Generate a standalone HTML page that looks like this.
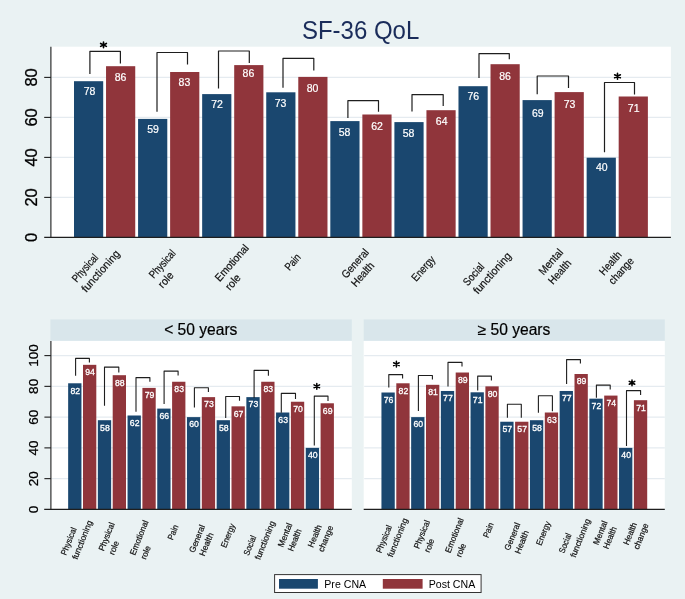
<!DOCTYPE html>
<html><head><meta charset="utf-8"><title>SF-36 QoL</title>
<style>
html,body{margin:0;padding:0;background:#eaf2f3;}
body{width:685px;height:599px;overflow:hidden;}
svg{display:block;font-family:"Liberation Sans", sans-serif;will-change:transform;}
</style></head><body>
<svg width="685" height="599" viewBox="0 0 685 599">
<rect width="685" height="599" fill="#eaf2f3"/>
<rect x="50.9" y="46.7" width="620" height="190.7" fill="#fff"/>
<line x1="51.4" y1="197.4" x2="670.9" y2="197.4" stroke="#e5ebf0" stroke-width="1.25"/>
<line x1="51.4" y1="157.4" x2="670.9" y2="157.4" stroke="#e5ebf0" stroke-width="1.25"/>
<line x1="51.4" y1="117.4" x2="670.9" y2="117.4" stroke="#e5ebf0" stroke-width="1.25"/>
<line x1="51.4" y1="77.4" x2="670.9" y2="77.4" stroke="#e5ebf0" stroke-width="1.25"/>
<rect x="74" y="81.2" width="29.2" height="156.2" fill="#1a476f"/>
<rect x="106.04" y="66.2" width="29.2" height="171.2" fill="#90353b"/>
<text x="89.6" y="94.5" font-size="10.5" fill="#fff" text-anchor="middle" stroke="#fff" stroke-width="0.2">78</text>
<text x="120.5" y="80.5" font-size="10.5" fill="#fff" text-anchor="middle" stroke="#fff" stroke-width="0.2">86</text>
<rect x="138.08" y="118.9" width="29.2" height="118.5" fill="#1a476f"/>
<rect x="170.12" y="72" width="29.2" height="165.4" fill="#90353b"/>
<text x="153.08" y="133.1" font-size="10.5" fill="#fff" text-anchor="middle" stroke="#fff" stroke-width="0.2">59</text>
<text x="184.45" y="85.8" font-size="10.5" fill="#fff" text-anchor="middle" stroke="#fff" stroke-width="0.2">83</text>
<rect x="202.16" y="94.1" width="29.2" height="143.3" fill="#1a476f"/>
<rect x="234.2" y="65.1" width="29.2" height="172.3" fill="#90353b"/>
<text x="217" y="108.2" font-size="10.5" fill="#fff" text-anchor="middle" stroke="#fff" stroke-width="0.2">72</text>
<text x="248.4" y="77.2" font-size="10.5" fill="#fff" text-anchor="middle" stroke="#fff" stroke-width="0.2">86</text>
<rect x="266.24" y="92.3" width="29.2" height="145.1" fill="#1a476f"/>
<rect x="298.28" y="76.9" width="29.2" height="160.5" fill="#90353b"/>
<text x="280.6" y="106.9" font-size="10.5" fill="#fff" text-anchor="middle" stroke="#fff" stroke-width="0.2">73</text>
<text x="312.6" y="91.8" font-size="10.5" fill="#fff" text-anchor="middle" stroke="#fff" stroke-width="0.2">80</text>
<rect x="330.32" y="121.1" width="29.2" height="116.3" fill="#1a476f"/>
<rect x="362.36" y="114.5" width="29.2" height="122.9" fill="#90353b"/>
<text x="344.6" y="135.5" font-size="10.5" fill="#fff" text-anchor="middle" stroke="#fff" stroke-width="0.2">58</text>
<text x="377.1" y="130.1" font-size="10.5" fill="#fff" text-anchor="middle" stroke="#fff" stroke-width="0.2">62</text>
<rect x="394.4" y="122.1" width="29.2" height="115.3" fill="#1a476f"/>
<rect x="426.44" y="110.2" width="29.2" height="127.2" fill="#90353b"/>
<text x="408.6" y="136.5" font-size="10.5" fill="#fff" text-anchor="middle" stroke="#fff" stroke-width="0.2">58</text>
<text x="441.7" y="124.8" font-size="10.5" fill="#fff" text-anchor="middle" stroke="#fff" stroke-width="0.2">64</text>
<rect x="458.48" y="86.2" width="29.2" height="151.2" fill="#1a476f"/>
<rect x="490.52" y="64.2" width="29.2" height="173.2" fill="#90353b"/>
<text x="473.3" y="100.4" font-size="10.5" fill="#fff" text-anchor="middle" stroke="#fff" stroke-width="0.2">76</text>
<text x="505" y="79.6" font-size="10.5" fill="#fff" text-anchor="middle" stroke="#fff" stroke-width="0.2">86</text>
<rect x="522.56" y="100.1" width="29.2" height="137.3" fill="#1a476f"/>
<rect x="554.6" y="92.1" width="29.2" height="145.3" fill="#90353b"/>
<text x="537.8" y="116.5" font-size="10.5" fill="#fff" text-anchor="middle" stroke="#fff" stroke-width="0.2">69</text>
<text x="569.5" y="107.8" font-size="10.5" fill="#fff" text-anchor="middle" stroke="#fff" stroke-width="0.2">73</text>
<rect x="586.64" y="157.7" width="29.2" height="79.7" fill="#1a476f"/>
<rect x="618.68" y="96.5" width="29.2" height="140.9" fill="#90353b"/>
<text x="601.8" y="171" font-size="10.5" fill="#fff" text-anchor="middle" stroke="#fff" stroke-width="0.2">40</text>
<text x="633.68" y="112.2" font-size="10.5" fill="#fff" text-anchor="middle" stroke="#fff" stroke-width="0.2">71</text>
<line x1="50.9" y1="46.7" x2="50.9" y2="237.9" stroke="#1e1e1e" stroke-width="1.1"/>
<line x1="44.2" y1="237.4" x2="670.9" y2="237.4" stroke="#1e1e1e" stroke-width="1.1"/>
<line x1="44.2" y1="197.4" x2="50.9" y2="197.4" stroke="#1e1e1e" stroke-width="1.1"/>
<line x1="44.2" y1="157.4" x2="50.9" y2="157.4" stroke="#1e1e1e" stroke-width="1.1"/>
<line x1="44.2" y1="117.4" x2="50.9" y2="117.4" stroke="#1e1e1e" stroke-width="1.1"/>
<line x1="44.2" y1="77.4" x2="50.9" y2="77.4" stroke="#1e1e1e" stroke-width="1.1"/>
<text x="37" y="237.4" font-size="16.5" fill="#000" text-anchor="middle" transform="rotate(-90 37 237.4)" stroke="#000" stroke-width="0.3">0</text>
<text x="37" y="197.4" font-size="16.5" fill="#000" text-anchor="middle" transform="rotate(-90 37 197.4)" stroke="#000" stroke-width="0.3">20</text>
<text x="37" y="157.4" font-size="16.5" fill="#000" text-anchor="middle" transform="rotate(-90 37 157.4)" stroke="#000" stroke-width="0.3">40</text>
<text x="37" y="117.4" font-size="16.5" fill="#000" text-anchor="middle" transform="rotate(-90 37 117.4)" stroke="#000" stroke-width="0.3">60</text>
<text x="37" y="77.4" font-size="16.5" fill="#000" text-anchor="middle" transform="rotate(-90 37 77.4)" stroke="#000" stroke-width="0.3">80</text>
<path d="M89.9 73.9V51.3H120.4V63.4" fill="none" stroke="#1e1e1e" stroke-width="1.2" stroke-linejoin="round"/>
<path d="M157 111.7V52.5H187.5V64.6" fill="none" stroke="#1e1e1e" stroke-width="1.2" stroke-linejoin="round"/>
<path d="M218.5 88.5V51H249.3V63.1" fill="none" stroke="#1e1e1e" stroke-width="1.2" stroke-linejoin="round"/>
<path d="M283 87.8V58.3H313.8V70.6" fill="none" stroke="#1e1e1e" stroke-width="1.2" stroke-linejoin="round"/>
<path d="M347.9 118V100.7H378.5V111.8" fill="none" stroke="#1e1e1e" stroke-width="1.2" stroke-linejoin="round"/>
<path d="M412 111.6V94.6H443.2V105.9" fill="none" stroke="#1e1e1e" stroke-width="1.2" stroke-linejoin="round"/>
<path d="M479 78V53.7H509.3V59.3" fill="none" stroke="#1e1e1e" stroke-width="1.2" stroke-linejoin="round"/>
<path d="M537.2 94.2V76H568.5V88" fill="none" stroke="#1e1e1e" stroke-width="1.2" stroke-linejoin="round"/>
<path d="M604.5 152.3V82.5H634.5V94.5" fill="none" stroke="#1e1e1e" stroke-width="1.2" stroke-linejoin="round"/>
<path d="M103.5 41.98L103.5 47.82M100.62 46.37L106.38 43.43M100.62 43.43L106.38 46.37" stroke="#000" stroke-width="1.6" stroke-linecap="round"/>
<path d="M617.5 73.38L617.5 79.22M614.62 77.77L620.38 74.83M614.62 74.83L620.38 77.77" stroke="#000" stroke-width="1.6" stroke-linecap="round"/>
<text transform="translate(76.7 282.9) rotate(-48.5)" font-size="11.0" fill="#111" stroke="#111" stroke-width="0.2" textLength="33.31" lengthAdjust="spacingAndGlyphs">Physical</text>
<text transform="translate(86.15 293) rotate(-48.5)" font-size="11.0" fill="#111" stroke="#111" stroke-width="0.2" textLength="51.95" lengthAdjust="spacingAndGlyphs">functioning</text>
<text transform="translate(153.85 279.1) rotate(-48.5)" font-size="11.0" fill="#111" stroke="#111" stroke-width="0.2" textLength="33.81" lengthAdjust="spacingAndGlyphs">Physical</text>
<text transform="translate(162.85 288.7) rotate(-48.5)" font-size="11.0" fill="#111" stroke="#111" stroke-width="0.2" textLength="17.23" lengthAdjust="spacingAndGlyphs">role</text>
<text transform="translate(219.7 282.15) rotate(-48.5)" font-size="11.0" fill="#111" stroke="#111" stroke-width="0.2" textLength="45.0" lengthAdjust="spacingAndGlyphs">Emotional</text>
<text transform="translate(229.9 291.05) rotate(-48.5)" font-size="11.0" fill="#111" stroke="#111" stroke-width="0.2" textLength="17.37" lengthAdjust="spacingAndGlyphs">role</text>
<text transform="translate(289.45 271.2) rotate(-48.5)" font-size="11.0" fill="#111" stroke="#111" stroke-width="0.2" textLength="18.08" lengthAdjust="spacingAndGlyphs">Pain</text>
<text transform="translate(346.3 279) rotate(-48.5)" font-size="11.0" fill="#111" stroke="#111" stroke-width="0.2" textLength="35.01" lengthAdjust="spacingAndGlyphs">General</text>
<text transform="translate(355.9 287.45) rotate(-48.5)" font-size="11.0" fill="#111" stroke="#111" stroke-width="0.2" textLength="28.57" lengthAdjust="spacingAndGlyphs">Health</text>
<text transform="translate(416.35 281.95) rotate(-48.5)" font-size="11.0" fill="#111" stroke="#111" stroke-width="0.2" textLength="29.35" lengthAdjust="spacingAndGlyphs">Energy</text>
<text transform="translate(467.8 286.45) rotate(-48.5)" font-size="11.0" fill="#111" stroke="#111" stroke-width="0.2" textLength="25.88" lengthAdjust="spacingAndGlyphs">Social</text>
<text transform="translate(477.95 294.8) rotate(-48.5)" font-size="11.0" fill="#111" stroke="#111" stroke-width="0.2" textLength="51.38" lengthAdjust="spacingAndGlyphs">functioning</text>
<text transform="translate(543.4 275.7) rotate(-48.5)" font-size="11.0" fill="#111" stroke="#111" stroke-width="0.2" textLength="30.62" lengthAdjust="spacingAndGlyphs">Mental</text>
<text transform="translate(553 285.05) rotate(-48.5)" font-size="11.0" fill="#111" stroke="#111" stroke-width="0.2" textLength="28.57" lengthAdjust="spacingAndGlyphs">Health</text>
<text transform="translate(603.9 276) rotate(-48.5)" font-size="11.0" fill="#111" stroke="#111" stroke-width="0.2" textLength="27.65" lengthAdjust="spacingAndGlyphs">Health</text>
<text transform="translate(613.35 285.25) rotate(-48.5)" font-size="11.0" fill="#111" stroke="#111" stroke-width="0.2" textLength="31.9" lengthAdjust="spacingAndGlyphs">change</text>
<text transform="translate(360.6 38.8) scale(1 1.06)" font-size="24" fill="#1a2c5a" text-anchor="middle">SF-36 QoL</text>
<rect x="50.4" y="319.4" width="301.4" height="21.5" fill="#d9e6eb"/>
<rect x="50.4" y="340.9" width="301.4" height="168.5" fill="#fff"/>
<line x1="50.9" y1="478.64" x2="351.8" y2="478.64" stroke="#e5ebf0" stroke-width="1.2"/>
<line x1="50.9" y1="447.88" x2="351.8" y2="447.88" stroke="#e5ebf0" stroke-width="1.2"/>
<line x1="50.9" y1="417.12" x2="351.8" y2="417.12" stroke="#e5ebf0" stroke-width="1.2"/>
<line x1="50.9" y1="386.36" x2="351.8" y2="386.36" stroke="#e5ebf0" stroke-width="1.2"/>
<line x1="50.9" y1="355.6" x2="351.8" y2="355.6" stroke="#e5ebf0" stroke-width="1.2"/>
<rect x="68.15" y="383.28" width="13.3" height="126.12" fill="#1a476f"/>
<rect x="83" y="364.83" width="13.3" height="144.57" fill="#90353b"/>
<text x="75.25" y="393.58" font-size="8.7" fill="#fff" text-anchor="middle" stroke="#fff" stroke-width="0.3">82</text>
<text x="90.1" y="375.13" font-size="8.7" fill="#fff" text-anchor="middle" stroke="#fff" stroke-width="0.3">94</text>
<rect x="97.85" y="420.2" width="13.3" height="89.2" fill="#1a476f"/>
<rect x="112.7" y="375.2" width="13.3" height="134.2" fill="#90353b"/>
<text x="104.95" y="430.5" font-size="8.7" fill="#fff" text-anchor="middle" stroke="#fff" stroke-width="0.3">58</text>
<text x="119.8" y="385.5" font-size="8.7" fill="#fff" text-anchor="middle" stroke="#fff" stroke-width="0.3">88</text>
<rect x="127.55" y="415.5" width="13.3" height="93.9" fill="#1a476f"/>
<rect x="142.4" y="387.9" width="13.3" height="121.5" fill="#90353b"/>
<text x="134.65" y="425.8" font-size="8.7" fill="#fff" text-anchor="middle" stroke="#fff" stroke-width="0.3">62</text>
<text x="149.5" y="398.2" font-size="8.7" fill="#fff" text-anchor="middle" stroke="#fff" stroke-width="0.3">79</text>
<rect x="157.25" y="408.6" width="13.3" height="100.8" fill="#1a476f"/>
<rect x="172.1" y="381.75" width="13.3" height="127.65" fill="#90353b"/>
<text x="164.35" y="418.9" font-size="8.7" fill="#fff" text-anchor="middle" stroke="#fff" stroke-width="0.3">66</text>
<text x="179.2" y="392.05" font-size="8.7" fill="#fff" text-anchor="middle" stroke="#fff" stroke-width="0.3">83</text>
<rect x="186.95" y="417.12" width="13.3" height="92.28" fill="#1a476f"/>
<rect x="201.8" y="397.13" width="13.3" height="112.27" fill="#90353b"/>
<text x="194.05" y="427.42" font-size="8.7" fill="#fff" text-anchor="middle" stroke="#fff" stroke-width="0.3">60</text>
<text x="208.9" y="407.43" font-size="8.7" fill="#fff" text-anchor="middle" stroke="#fff" stroke-width="0.3">73</text>
<rect x="216.65" y="420.2" width="13.3" height="89.2" fill="#1a476f"/>
<rect x="231.5" y="406.35" width="13.3" height="103.05" fill="#90353b"/>
<text x="223.75" y="430.5" font-size="8.7" fill="#fff" text-anchor="middle" stroke="#fff" stroke-width="0.3">58</text>
<text x="238.6" y="416.65" font-size="8.7" fill="#fff" text-anchor="middle" stroke="#fff" stroke-width="0.3">67</text>
<rect x="246.35" y="397.13" width="13.3" height="112.27" fill="#1a476f"/>
<rect x="261.2" y="381.75" width="13.3" height="127.65" fill="#90353b"/>
<text x="253.45" y="407.43" font-size="8.7" fill="#fff" text-anchor="middle" stroke="#fff" stroke-width="0.3">73</text>
<text x="268.3" y="392.05" font-size="8.7" fill="#fff" text-anchor="middle" stroke="#fff" stroke-width="0.3">83</text>
<rect x="276.05" y="412.51" width="13.3" height="96.89" fill="#1a476f"/>
<rect x="290.9" y="401.74" width="13.3" height="107.66" fill="#90353b"/>
<text x="283.15" y="422.81" font-size="8.7" fill="#fff" text-anchor="middle" stroke="#fff" stroke-width="0.3">63</text>
<text x="298" y="412.04" font-size="8.7" fill="#fff" text-anchor="middle" stroke="#fff" stroke-width="0.3">70</text>
<rect x="305.75" y="447.88" width="13.3" height="61.52" fill="#1a476f"/>
<rect x="320.6" y="403.28" width="13.3" height="106.12" fill="#90353b"/>
<text x="312.85" y="458.18" font-size="8.7" fill="#fff" text-anchor="middle" stroke="#fff" stroke-width="0.3">40</text>
<text x="327.7" y="413.58" font-size="8.7" fill="#fff" text-anchor="middle" stroke="#fff" stroke-width="0.3">69</text>
<line x1="44.2" y1="509.4" x2="351.8" y2="509.4" stroke="#1e1e1e" stroke-width="1.1"/>
<line x1="50.9" y1="340.9" x2="50.9" y2="509.9" stroke="#1e1e1e" stroke-width="1.1"/>
<line x1="44.4" y1="478.64" x2="50.9" y2="478.64" stroke="#1e1e1e" stroke-width="1.1"/>
<line x1="44.4" y1="447.88" x2="50.9" y2="447.88" stroke="#1e1e1e" stroke-width="1.1"/>
<line x1="44.4" y1="417.12" x2="50.9" y2="417.12" stroke="#1e1e1e" stroke-width="1.1"/>
<line x1="44.4" y1="386.36" x2="50.9" y2="386.36" stroke="#1e1e1e" stroke-width="1.1"/>
<line x1="44.4" y1="355.6" x2="50.9" y2="355.6" stroke="#1e1e1e" stroke-width="1.1"/>
<text x="38" y="509.4" font-size="13.5" fill="#000" text-anchor="middle" transform="rotate(-90 38 509.4)" stroke="#000" stroke-width="0.25">0</text>
<text x="38" y="478.64" font-size="13.5" fill="#000" text-anchor="middle" transform="rotate(-90 38 478.64)" stroke="#000" stroke-width="0.25">20</text>
<text x="38" y="447.88" font-size="13.5" fill="#000" text-anchor="middle" transform="rotate(-90 38 447.88)" stroke="#000" stroke-width="0.25">40</text>
<text x="38" y="417.12" font-size="13.5" fill="#000" text-anchor="middle" transform="rotate(-90 38 417.12)" stroke="#000" stroke-width="0.25">60</text>
<text x="38" y="386.36" font-size="13.5" fill="#000" text-anchor="middle" transform="rotate(-90 38 386.36)" stroke="#000" stroke-width="0.25">80</text>
<text x="38" y="355.6" font-size="13.5" fill="#000" text-anchor="middle" transform="rotate(-90 38 355.6)" stroke="#000" stroke-width="0.25">100</text>
<path d="M75.6 375.8V358.4H89.4V362.4" fill="none" stroke="#1e1e1e" stroke-width="1.1" stroke-linejoin="round"/>
<path d="M104.5 405.7V367.1H118.8V372.5" fill="none" stroke="#1e1e1e" stroke-width="1.1" stroke-linejoin="round"/>
<path d="M136 411.7V377.6H149.9V381.7" fill="none" stroke="#1e1e1e" stroke-width="1.1" stroke-linejoin="round"/>
<path d="M164.1 404.1V371.1H178.1V375.4" fill="none" stroke="#1e1e1e" stroke-width="1.1" stroke-linejoin="round"/>
<path d="M194.4 407.4V387.7H208.4V392.1" fill="none" stroke="#1e1e1e" stroke-width="1.1" stroke-linejoin="round"/>
<path d="M225.7 418.1V396.5H239.5V400.7" fill="none" stroke="#1e1e1e" stroke-width="1.1" stroke-linejoin="round"/>
<path d="M254.1 398.1V370.4H268.4V375.8" fill="none" stroke="#1e1e1e" stroke-width="1.1" stroke-linejoin="round"/>
<path d="M281.3 412.8V393.4H295.5V399" fill="none" stroke="#1e1e1e" stroke-width="1.1" stroke-linejoin="round"/>
<path d="M314.3 445.6V396.1H328V401" fill="none" stroke="#1e1e1e" stroke-width="1.1" stroke-linejoin="round"/>
<path d="M316.8 383.46L316.8 389.14M314.01 387.72L319.59 384.88M314.01 384.88L319.59 387.72" stroke="#000" stroke-width="1.5" stroke-linecap="round"/>
<text x="200.8" y="334.8" font-size="15.6" fill="#000" text-anchor="middle" stroke="#000" stroke-width="0.2">&lt; 50 years</text>
<text transform="translate(65.95 555.85) rotate(-68.0)" font-size="8.6" fill="#111" stroke="#111" stroke-width="0.2" textLength="28.98" lengthAdjust="spacingAndGlyphs">Physical</text>
<text transform="translate(77.2 560.1) rotate(-68.0)" font-size="8.6" fill="#111" stroke="#111" stroke-width="0.2" textLength="41.12" lengthAdjust="spacingAndGlyphs">functioning</text>
<text transform="translate(103.65 551.6) rotate(-68.0)" font-size="8.6" fill="#111" stroke="#111" stroke-width="0.2" textLength="29.82" lengthAdjust="spacingAndGlyphs">Physical</text>
<text transform="translate(114.05 555.4) rotate(-68.0)" font-size="8.6" fill="#111" stroke="#111" stroke-width="0.2" textLength="14.0" lengthAdjust="spacingAndGlyphs">role</text>
<text transform="translate(134.95 555.75) rotate(-68.0)" font-size="8.6" fill="#111" stroke="#111" stroke-width="0.2" textLength="36.51" lengthAdjust="spacingAndGlyphs">Emotional</text>
<text transform="translate(145.75 559.95) rotate(-68.0)" font-size="8.6" fill="#111" stroke="#111" stroke-width="0.2" textLength="13.77" lengthAdjust="spacingAndGlyphs">role</text>
<text transform="translate(172.85 540.5) rotate(-68.0)" font-size="8.6" fill="#111" stroke="#111" stroke-width="0.2" textLength="15.38" lengthAdjust="spacingAndGlyphs">Pain</text>
<text transform="translate(194.3 553.25) rotate(-68.0)" font-size="8.6" fill="#111" stroke="#111" stroke-width="0.2" textLength="29.06" lengthAdjust="spacingAndGlyphs">General</text>
<text transform="translate(204.6 556.75) rotate(-68.0)" font-size="8.6" fill="#111" stroke="#111" stroke-width="0.2" textLength="24.29" lengthAdjust="spacingAndGlyphs">Health</text>
<text transform="translate(226 548.2) rotate(-68.0)" font-size="8.6" fill="#111" stroke="#111" stroke-width="0.2" textLength="24.83" lengthAdjust="spacingAndGlyphs">Energy</text>
<text transform="translate(248.7 555.95) rotate(-68.0)" font-size="8.6" fill="#111" stroke="#111" stroke-width="0.2" textLength="20.45" lengthAdjust="spacingAndGlyphs">Social</text>
<text transform="translate(260.1 560.2) rotate(-68.0)" font-size="8.6" fill="#111" stroke="#111" stroke-width="0.2" textLength="40.65" lengthAdjust="spacingAndGlyphs">functioning</text>
<text transform="translate(283.05 547.75) rotate(-68.0)" font-size="8.6" fill="#111" stroke="#111" stroke-width="0.2" textLength="24.98" lengthAdjust="spacingAndGlyphs">Mental</text>
<text transform="translate(293 551.7) rotate(-68.0)" font-size="8.6" fill="#111" stroke="#111" stroke-width="0.2" textLength="22.83" lengthAdjust="spacingAndGlyphs">Health</text>
<text transform="translate(313.1 547.9) rotate(-68.0)" font-size="8.6" fill="#111" stroke="#111" stroke-width="0.2" textLength="23.29" lengthAdjust="spacingAndGlyphs">Health</text>
<text transform="translate(323.15 552.4) rotate(-68.0)" font-size="8.6" fill="#111" stroke="#111" stroke-width="0.2" textLength="27.37" lengthAdjust="spacingAndGlyphs">change</text>
<rect x="363.7" y="319.4" width="301.1" height="21.5" fill="#d9e6eb"/>
<rect x="363.7" y="340.9" width="301.1" height="168.5" fill="#fff"/>
<line x1="364.2" y1="478.64" x2="664.8" y2="478.64" stroke="#e5ebf0" stroke-width="1.2"/>
<line x1="364.2" y1="447.88" x2="664.8" y2="447.88" stroke="#e5ebf0" stroke-width="1.2"/>
<line x1="364.2" y1="417.12" x2="664.8" y2="417.12" stroke="#e5ebf0" stroke-width="1.2"/>
<line x1="364.2" y1="386.36" x2="664.8" y2="386.36" stroke="#e5ebf0" stroke-width="1.2"/>
<line x1="364.2" y1="355.6" x2="664.8" y2="355.6" stroke="#e5ebf0" stroke-width="1.2"/>
<rect x="381.45" y="392.51" width="13.3" height="116.89" fill="#1a476f"/>
<rect x="396.3" y="383.28" width="13.3" height="126.12" fill="#90353b"/>
<text x="388.55" y="402.81" font-size="8.7" fill="#fff" text-anchor="middle" stroke="#fff" stroke-width="0.3">76</text>
<text x="403.4" y="393.58" font-size="8.7" fill="#fff" text-anchor="middle" stroke="#fff" stroke-width="0.3">82</text>
<rect x="411.15" y="417.12" width="13.3" height="92.28" fill="#1a476f"/>
<rect x="426" y="384.82" width="13.3" height="124.58" fill="#90353b"/>
<text x="418.25" y="427.42" font-size="8.7" fill="#fff" text-anchor="middle" stroke="#fff" stroke-width="0.3">60</text>
<text x="433.1" y="395.12" font-size="8.7" fill="#fff" text-anchor="middle" stroke="#fff" stroke-width="0.3">81</text>
<rect x="440.85" y="390.97" width="13.3" height="118.43" fill="#1a476f"/>
<rect x="455.7" y="372.52" width="13.3" height="136.88" fill="#90353b"/>
<text x="447.95" y="401.27" font-size="8.7" fill="#fff" text-anchor="middle" stroke="#fff" stroke-width="0.3">77</text>
<text x="462.8" y="382.82" font-size="8.7" fill="#fff" text-anchor="middle" stroke="#fff" stroke-width="0.3">89</text>
<rect x="470.55" y="392.3" width="13.3" height="117.1" fill="#1a476f"/>
<rect x="485.4" y="386.36" width="13.3" height="123.04" fill="#90353b"/>
<text x="477.65" y="402.6" font-size="8.7" fill="#fff" text-anchor="middle" stroke="#fff" stroke-width="0.3">71</text>
<text x="492.5" y="396.66" font-size="8.7" fill="#fff" text-anchor="middle" stroke="#fff" stroke-width="0.3">80</text>
<rect x="500.25" y="421.73" width="13.3" height="87.67" fill="#1a476f"/>
<rect x="515.1" y="421.73" width="13.3" height="87.67" fill="#90353b"/>
<text x="507.35" y="432.03" font-size="8.7" fill="#fff" text-anchor="middle" stroke="#fff" stroke-width="0.3">57</text>
<text x="522.2" y="432.03" font-size="8.7" fill="#fff" text-anchor="middle" stroke="#fff" stroke-width="0.3">57</text>
<rect x="529.95" y="420.2" width="13.3" height="89.2" fill="#1a476f"/>
<rect x="544.8" y="412.51" width="13.3" height="96.89" fill="#90353b"/>
<text x="537.05" y="430.5" font-size="8.7" fill="#fff" text-anchor="middle" stroke="#fff" stroke-width="0.3">58</text>
<text x="551.9" y="422.81" font-size="8.7" fill="#fff" text-anchor="middle" stroke="#fff" stroke-width="0.3">63</text>
<rect x="559.65" y="390.97" width="13.3" height="118.43" fill="#1a476f"/>
<rect x="574.5" y="374" width="13.3" height="135.4" fill="#90353b"/>
<text x="566.75" y="401.27" font-size="8.7" fill="#fff" text-anchor="middle" stroke="#fff" stroke-width="0.3">77</text>
<text x="581.6" y="384.3" font-size="8.7" fill="#fff" text-anchor="middle" stroke="#fff" stroke-width="0.3">89</text>
<rect x="589.35" y="398.66" width="13.3" height="110.74" fill="#1a476f"/>
<rect x="604.2" y="395.59" width="13.3" height="113.81" fill="#90353b"/>
<text x="596.45" y="408.96" font-size="8.7" fill="#fff" text-anchor="middle" stroke="#fff" stroke-width="0.3">72</text>
<text x="611.3" y="405.89" font-size="8.7" fill="#fff" text-anchor="middle" stroke="#fff" stroke-width="0.3">74</text>
<rect x="619.05" y="447.88" width="13.3" height="61.52" fill="#1a476f"/>
<rect x="633.9" y="400.2" width="13.3" height="109.2" fill="#90353b"/>
<text x="626.15" y="458.18" font-size="8.7" fill="#fff" text-anchor="middle" stroke="#fff" stroke-width="0.3">40</text>
<text x="641" y="410.5" font-size="8.7" fill="#fff" text-anchor="middle" stroke="#fff" stroke-width="0.3">71</text>
<line x1="363.7" y1="509.4" x2="664.8" y2="509.4" stroke="#1e1e1e" stroke-width="1.1"/>
<path d="M388.8 387.5V374.6H402.6V378.4" fill="none" stroke="#1e1e1e" stroke-width="1.1" stroke-linejoin="round"/>
<path d="M418.4 411.1V375.5H432.4V379.5" fill="none" stroke="#1e1e1e" stroke-width="1.1" stroke-linejoin="round"/>
<path d="M448 386.4V362.4H462V366.6" fill="none" stroke="#1e1e1e" stroke-width="1.1" stroke-linejoin="round"/>
<path d="M477.7 390.4V376.1H491.4V380.4" fill="none" stroke="#1e1e1e" stroke-width="1.1" stroke-linejoin="round"/>
<path d="M507.4 417.8V404.3H521.3V417.8" fill="none" stroke="#1e1e1e" stroke-width="1.1" stroke-linejoin="round"/>
<path d="M538.4 412.8V395.7H552.4V411.2" fill="none" stroke="#1e1e1e" stroke-width="1.1" stroke-linejoin="round"/>
<path d="M566.6 384.1V359.6H580.4V363.6" fill="none" stroke="#1e1e1e" stroke-width="1.1" stroke-linejoin="round"/>
<path d="M596.4 397.7V385.1H610.2V389.4" fill="none" stroke="#1e1e1e" stroke-width="1.1" stroke-linejoin="round"/>
<path d="M626.5 446V390.6H640.6V395" fill="none" stroke="#1e1e1e" stroke-width="1.1" stroke-linejoin="round"/>
<path d="M396.4 361.36L396.4 367.04M393.61 365.62L399.19 362.78M393.61 362.78L399.19 365.62" stroke="#000" stroke-width="1.5" stroke-linecap="round"/>
<path d="M632 379.96L632 385.64M629.21 384.22L634.79 381.38M629.21 381.38L634.79 384.22" stroke="#000" stroke-width="1.5" stroke-linecap="round"/>
<text x="513.95" y="334.8" font-size="15.6" fill="#000" text-anchor="middle" stroke="#000" stroke-width="0.2">&#8805; 50 years</text>
<text transform="translate(381.25 553.55) rotate(-68.0)" font-size="8.6" fill="#111" stroke="#111" stroke-width="0.2" textLength="28.98" lengthAdjust="spacingAndGlyphs">Physical</text>
<text transform="translate(392.5 557.8) rotate(-68.0)" font-size="8.6" fill="#111" stroke="#111" stroke-width="0.2" textLength="41.12" lengthAdjust="spacingAndGlyphs">functioning</text>
<text transform="translate(418.95 549.3) rotate(-68.0)" font-size="8.6" fill="#111" stroke="#111" stroke-width="0.2" textLength="29.82" lengthAdjust="spacingAndGlyphs">Physical</text>
<text transform="translate(429.35 553.1) rotate(-68.0)" font-size="8.6" fill="#111" stroke="#111" stroke-width="0.2" textLength="14.0" lengthAdjust="spacingAndGlyphs">role</text>
<text transform="translate(450.25 553.45) rotate(-68.0)" font-size="8.6" fill="#111" stroke="#111" stroke-width="0.2" textLength="36.51" lengthAdjust="spacingAndGlyphs">Emotional</text>
<text transform="translate(461.05 557.65) rotate(-68.0)" font-size="8.6" fill="#111" stroke="#111" stroke-width="0.2" textLength="13.77" lengthAdjust="spacingAndGlyphs">role</text>
<text transform="translate(488.15 538.2) rotate(-68.0)" font-size="8.6" fill="#111" stroke="#111" stroke-width="0.2" textLength="15.38" lengthAdjust="spacingAndGlyphs">Pain</text>
<text transform="translate(509.6 550.95) rotate(-68.0)" font-size="8.6" fill="#111" stroke="#111" stroke-width="0.2" textLength="29.06" lengthAdjust="spacingAndGlyphs">General</text>
<text transform="translate(519.9 554.45) rotate(-68.0)" font-size="8.6" fill="#111" stroke="#111" stroke-width="0.2" textLength="24.29" lengthAdjust="spacingAndGlyphs">Health</text>
<text transform="translate(541.3 545.9) rotate(-68.0)" font-size="8.6" fill="#111" stroke="#111" stroke-width="0.2" textLength="24.83" lengthAdjust="spacingAndGlyphs">Energy</text>
<text transform="translate(564 553.65) rotate(-68.0)" font-size="8.6" fill="#111" stroke="#111" stroke-width="0.2" textLength="20.45" lengthAdjust="spacingAndGlyphs">Social</text>
<text transform="translate(575.4 557.9) rotate(-68.0)" font-size="8.6" fill="#111" stroke="#111" stroke-width="0.2" textLength="40.65" lengthAdjust="spacingAndGlyphs">functioning</text>
<text transform="translate(598.35 545.45) rotate(-68.0)" font-size="8.6" fill="#111" stroke="#111" stroke-width="0.2" textLength="24.98" lengthAdjust="spacingAndGlyphs">Mental</text>
<text transform="translate(608.3 549.4) rotate(-68.0)" font-size="8.6" fill="#111" stroke="#111" stroke-width="0.2" textLength="22.83" lengthAdjust="spacingAndGlyphs">Health</text>
<text transform="translate(628.4 545.6) rotate(-68.0)" font-size="8.6" fill="#111" stroke="#111" stroke-width="0.2" textLength="23.29" lengthAdjust="spacingAndGlyphs">Health</text>
<text transform="translate(638.45 550.1) rotate(-68.0)" font-size="8.6" fill="#111" stroke="#111" stroke-width="0.2" textLength="27.37" lengthAdjust="spacingAndGlyphs">change</text>
<rect x="274.1" y="574.1" width="207.5" height="18.9" fill="#fff"/>
<rect x="274.6" y="574.6" width="206.5" height="17.9" fill="none" stroke="#333" stroke-width="1"/>
<rect x="279" y="579" width="38.9" height="9.7" fill="#1a476f"/>
<rect x="382.8" y="579" width="39.8" height="9.7" fill="#90353b"/>
<text x="324.3" y="588.1" font-size="10.6" fill="#000" text-anchor="start">Pre CNA</text>
<text x="428.7" y="588.1" font-size="10.6" fill="#000" text-anchor="start">Post CNA</text>
</svg>
</body></html>
